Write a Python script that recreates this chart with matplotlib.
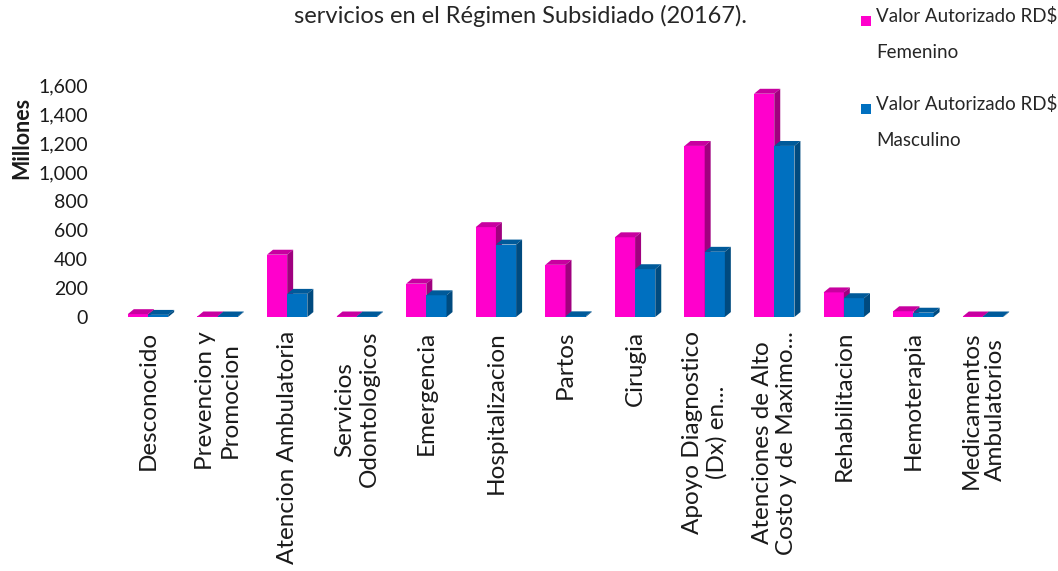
import matplotlib.pyplot as plt
from matplotlib.patches import Polygon, Rectangle
from matplotlib.ticker import FuncFormatter

plt.rcParams['font.family'] = ['Lato', 'DejaVu Sans']

categories = [
    "Desconocido", "Prevencion y\nPromocion", "Atencion Ambulatoria",
    "Servicios\nOdontologicos", "Emergencia", "Hospitalizacion", "Partos",
    "Cirugia", "Apoyo Diagnostico\n(Dx) en...", "Atenciones de Alto\nCosto y de Maximo...",
    "Rehabilitacion", "Hemoterapia", "Medicamentos\nAmbulatorios",
]
femenino = [20, 4, 430, 4, 230, 620, 360, 550, 1180, 1540, 170, 40, 4]
masculino = [15, 4, 160, 4, 150, 500, 5, 330, 450, 1180, 130, 30, 4]
series_names = ["Valor Autorizado RD\\$\nFemenino", "Valor Autorizado RD\\$\nMasculino"]

# front / top / side colours for each series
colors = [("#FF00CC", "#C800A0", "#A0007F"), ("#0070C0", "#005A9A", "#004A7F")]

fig = plt.figure(figsize=(10.58, 5.71), dpi=100)
ax = fig.add_axes([0.107, 0.4448, 0.855, 0.4063])
ax.set_xlim(-0.5, len(categories) - 0.5)
ax.set_ylim(0, 1600)

w = 0.29
dx, dy = 0.086, 34

for i in range(len(categories)):
    for s, vals in enumerate([femenino, masculino]):
        x0 = i - w + s * w
        h = vals[i]
        front, top, side = colors[s]
        ax.add_patch(Rectangle((x0, 0), w, h, facecolor=front, edgecolor="none", zorder=2))
        ax.add_patch(Polygon([(x0, h), (x0 + dx, h + dy), (x0 + w + dx, h + dy), (x0 + w, h)],
                             closed=True, facecolor=top, edgecolor="none", zorder=2))
        ax.add_patch(Polygon([(x0 + w, 0), (x0 + w, h), (x0 + w + dx, h + dy), (x0 + w + dx, dy)],
                             closed=True, facecolor=side, edgecolor="none", zorder=2))

for sp in ax.spines.values():
    sp.set_visible(False)

ax.set_yticks(range(0, 1601, 200))
ax.yaxis.set_major_formatter(FuncFormatter(lambda v, p: f"{int(v):,}"))
ax.set_xticks(range(len(categories)))
ax.set_xticklabels(categories, rotation=90, ha="center", va="top", multialignment="center")
ax.tick_params(axis="y", length=0, pad=18, labelsize=14, labelcolor="#1a1a1a")
ax.tick_params(axis="x", length=0, pad=10, labelsize=17.5, labelcolor="#1a1a1a")
ax.set_ylabel("Millones", fontsize=15.5, fontweight="bold", color="#1a1a1a")
ax.yaxis.set_label_coords(-0.09, 0.77)

fig.text(0.492, 0.972, "servicios en el Régimen Subsidiado (20167).", ha="center", va="center",
         fontsize=17, color="#262626")

for s, name in enumerate(series_names):
    ytop = 1 - (20 + s * 88) / 571
    fig.patches.append(Rectangle((861 / 1058, ytop - 0.011), 0.0095, 0.0185,
                                 transform=fig.transFigure, facecolor=colors[s][0],
                                 edgecolor="none"))
    fig.text(876 / 1058, ytop + 0.022, name, ha="left", va="top", fontsize=13.5,
             color="#262626", linespacing=2.35)

fig.savefig("out.png", dpi=100)
